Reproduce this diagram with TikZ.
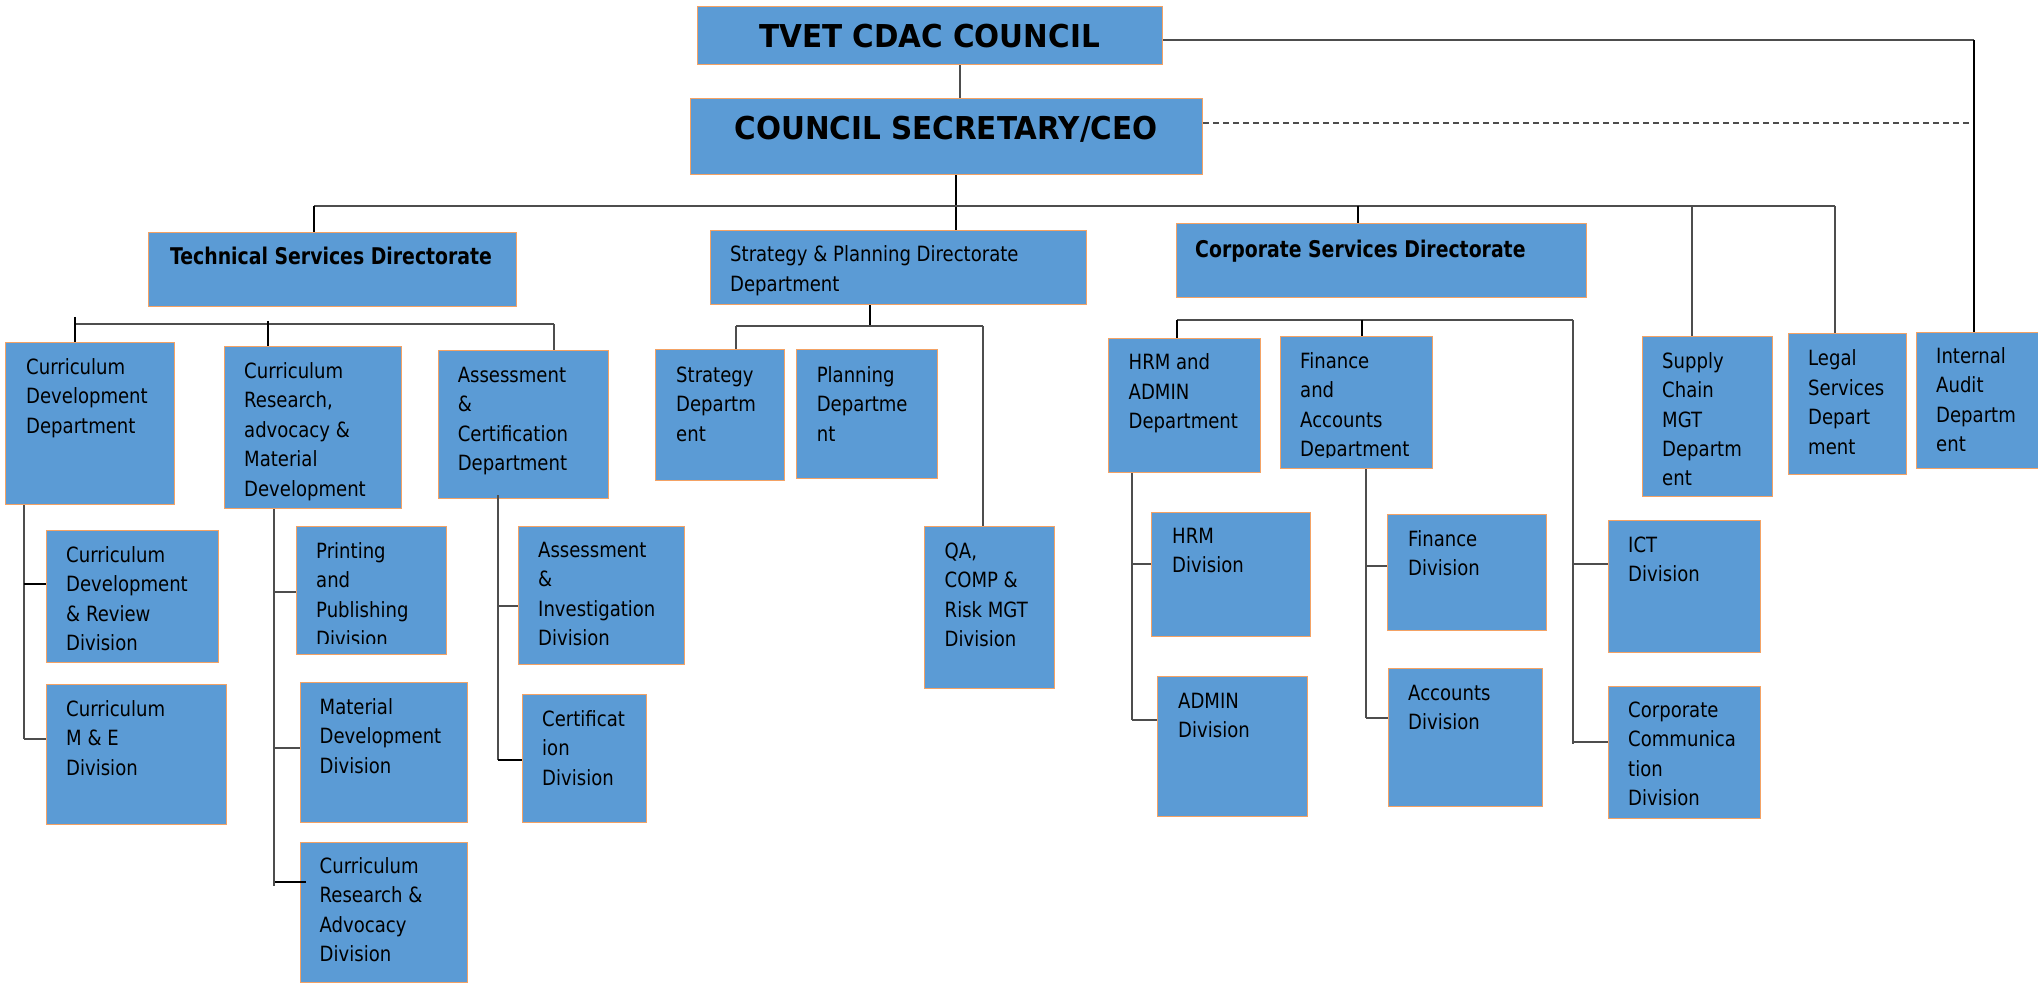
\documentclass[tikz,border=0pt]{standalone}
\usepackage{fontspec}
\setmainfont{DejaVu Sans}[FakeStretch=0.86]
\newfontfamily\bodyfont{DejaVu Sans}[FakeStretch=0.86]
\newfontfamily\headfont{DejaVu Sans}[FakeStretch=0.82]
\newfontfamily\topfont{DejaVu Sans}[FakeStretch=0.935]
\definecolor{boxfill}{HTML}{5B9BD5}
\definecolor{boxborder}{HTML}{F4A264}
\definecolor{linegray}{HTML}{4D4D4D}
\tikzset{
  box/.style={draw=boxborder, fill=boxfill, line width=1.3pt, inner sep=0pt, anchor=north west},
  txt/.style={inner sep=0pt, anchor=base west, font=\bodyfont\fontsize{21}{29.5}\selectfont, text=black},
  conn/.style={draw=linegray, line width=2pt},
  stub/.style={draw=black, line width=2.2pt},
  dashconn/.style={draw=linegray, line width=2pt, dash pattern=on 6pt off 4pt}
}
\newcommand{\mybox}[5]{\node[box, minimum width={#4pt-#2pt}, minimum height={#5pt-#3pt}] (#1) at (#2,#3) {};}
\newcommand{\mytext}[4]{\node[txt] (#1) at (#2,#3) {\parbox[t]{300pt}{\raggedright #4}};}
\begin{document}
\begin{tikzpicture}[x=1pt, y=-1pt]
\useasboundingbox (0,0) rectangle (2038,984);

% ---------- boxes ----------
\mybox{tvet}{697}{6}{1162}{64}
\mybox{ceo}{690}{98}{1202}{174}
\mybox{tech}{148}{232}{516}{306}
\mybox{sp}{710}{230}{1086}{304}
\mybox{corp}{1176}{223}{1586}{297}

\mybox{cdd}{5}{342}{174}{504}
\mybox{crd}{224}{346}{401}{508}
\mybox{acd}{437.5}{350}{608}{498}
\mybox{sd}{655}{349}{784}{480}
\mybox{pd}{796}{349}{936.5}{478}
\mybox{qa}{923.5}{526}{1054}{688}
\mybox{hrmd}{1107.6}{338}{1260}{472}
\mybox{fad}{1280}{336}{1432}{468}
\mybox{scm}{1641.6}{336}{1772}{496}
\mybox{legal}{1787.6}{333}{1906}{474}
\mybox{audit}{1915.7}{332}{2040}{468}

\mybox{cdrd}{45.5}{530}{218}{662}
\mybox{cme}{46}{684}{226}{824}
\mybox{ppd}{295.5}{526}{446}{654}
\mybox{mdd}{300}{682}{467}{822}
\mybox{crad}{300}{842}{467}{982}
\mybox{aid}{518}{526}{684}{664}
\mybox{cert}{522}{694}{646}{822}
\mybox{hrmdiv}{1151}{512}{1310}{636}
\mybox{admin}{1157}{676}{1306.5}{816}
\mybox{fin}{1387}{514}{1546}{630}
\mybox{acc}{1387.5}{668}{1541.5}{806}
\mybox{ict}{1608}{520}{1760}{652}
\mybox{cc}{1607.6}{686}{1760}{818}

% ---------- texts ----------
\node[inner sep=0pt, anchor=base, font=\topfont\bfseries\fontsize{31.5}{36}\selectfont] (tvet-t) at (929.5,48) {TVET CDAC COUNCIL};
\node[inner sep=0pt, anchor=base, font=\topfont\bfseries\fontsize{31.5}{36}\selectfont] (ceo-t) at (946,140) {COUNCIL SECRETARY/CEO};
\node[inner sep=0pt, anchor=base, font=\headfont\bfseries\fontsize{23}{28}\selectfont] (tech-t) at (331,265) {Technical Services Directorate};
\node[inner sep=0pt, anchor=base west, font=\headfont\bfseries\fontsize{23}{28}\selectfont] (corp-t) at (1195,258) {Corporate Services Directorate};
\node[txt] (sp-t) at (730,262) {\parbox[t]{340pt}{\raggedright\fontsize{21}{30}\selectfont Strategy \& Planning Directorate\\Department}};

\mytext{cdd-t}{26}{374}{Curriculum\\Development\\Department}
\mytext{crd-t}{244}{378}{Curriculum\\Research,\\advocacy \&\\Material\\Development}
\mytext{acd-t}{457.6}{382}{Assessment\\\&\\Certification\\Department}
\mytext{sd-t}{676}{382}{Strategy\\Departm\\ent}
\mytext{pd-t}{816.6}{382}{Planning\\Departme\\nt}
\mytext{qa-t}{944.5}{558}{QA,\\COMP \&\\Risk MGT\\Division}
\mytext{hrmd-t}{1128.5}{370}{HRM and\\ADMIN\\Department}
\begin{scope}
\clip (1280,336) rectangle (1432,457);
\mytext{fad-t}{1300}{368}{Finance\\and\\Accounts\\Department}
\end{scope}
\mytext{scm-t}{1662}{368}{Supply\\Chain\\MGT\\Departm\\ent}
\mytext{legal-t}{1808}{366}{Legal\\Services\\Depart\\ment}
\mytext{audit-t}{1936}{363}{Internal\\Audit\\Departm\\ent}

\mytext{cdrd-t}{66}{562}{Curriculum\\Development\\\& Review\\Division}
\mytext{cme-t}{66}{716}{Curriculum\\M \& E\\Division}
\begin{scope}
\clip (295.5,526) rectangle (446,643);
\mytext{ppd-t}{316}{558}{Printing\\and\\Publishing\\Division}
\end{scope}
\mytext{mdd-t}{319.5}{714}{Material\\Development\\Division}
\mytext{crad-t}{319.5}{873}{Curriculum\\Research \&\\Advocacy\\Division}
\mytext{aid-t}{538}{557}{Assessment\\\&\\Investigation\\Division}
\mytext{cert-t}{542}{726}{Certificat\\ion\\Division}
\mytext{hrmdiv-t}{1172}{543}{HRM\\Division}
\mytext{admin-t}{1178}{708}{ADMIN\\Division}
\mytext{fin-t}{1408}{546}{Finance\\Division}
\mytext{acc-t}{1408}{700}{Accounts\\Division}
\mytext{ict-t}{1628}{552}{ICT\\Division}
\mytext{cc-t}{1628}{717}{Corporate\\Communica\\tion\\Division}

% ---------- junction coordinates ----------
\coordinate (tvx) at (960,0);
\coordinate (auditX) at (1974,40);
\coordinate (dashY) at (1972,123);
\coordinate (ceoX) at (956,206);
\coordinate (barL) at (314,206);
\coordinate (barR) at (1835,206);
\coordinate (corpX) at (1358,206);
\coordinate (supX) at (1692,206);

\coordinate (tbL) at (75,324);
\coordinate (tbM) at (268,324);
\coordinate (tbR) at (554,324);
\coordinate (spX) at (870,326);
\coordinate (sbL) at (736,326);
\coordinate (sbR) at (983,326);
\coordinate (cbL) at (1177,320);
\coordinate (cbM) at (1362,320);
\coordinate (cbR) at (1573,320);

% ---------- top level ----------
\draw[conn] (tvet.south -| tvx) -- (ceo.north -| tvx);
\draw[conn] (tvet.east |- auditX) -- (auditX);
\draw[stub] (auditX) -- (audit.north -| auditX);
\draw[dashconn] (ceo.east |- dashY) -- (dashY);
\draw[stub] (ceo.south -| ceoX) -- (sp.north -| ceoX);
\draw[conn] (barL) -- (barR);
\draw[stub] (barL) -- (tech.north -| barL);
\draw[stub] (corpX) -- (corp.north -| corpX);
\draw[conn] (supX) -- (scm.north -| supX);
\draw[conn] (barR) -- (legal.north -| barR);

% ---------- technical services ----------
\draw[conn] (tbL) -- (tbR);
\draw[stub] ([yshift=7pt]tbL) -- (cdd.north -| tbL);
\draw[stub] ([yshift=3pt]tbM) -- (crd.north -| tbM);
\draw[conn] (tbR) -- (acd.north -| tbR);

\coordinate (t1) at (23.7,739);
\draw[conn] (cdd.south -| t1) -- (t1);
\coordinate (b11) at (23.7,584);
\draw[stub] (b11) -- (cdrd.west |- b11);
\draw[conn] (t1) -- (cme.west |- t1);

\coordinate (t2) at (273.7,886);
\draw[conn] (crd.south -| t2) -- (t2);
\coordinate (b21) at (273.7,592);
\coordinate (b22) at (273.7,748);
\coordinate (b23) at (275,882);
\draw[conn] (b21) -- (ppd.west |- b21);
\draw[conn] (b22) -- (mdd.west |- b22);
\draw[stub] (b23) -- ([xshift=6pt]crad.west |- b23);

\coordinate (t3) at (498,760);
\draw[conn] ([yshift=4pt]acd.south -| t3) -- (t3);
\coordinate (b31) at (498,606);
\draw[conn] (b31) -- (aid.west |- b31);
\draw[stub] (t3) -- (cert.west |- t3);

% ---------- strategy & planning ----------
\draw[stub] (sp.south -| spX) -- (spX);
\draw[conn] (sbL) -- (sbR);
\draw[conn] (sbL) -- (sd.north -| sbL);
\draw[conn] (sbR) -- (qa.north -| sbR);

% ---------- corporate services ----------
\draw[conn] (cbL) -- (cbR);
\draw[stub] (cbL) -- (hrmd.north -| cbL);
\draw[stub] (cbM) -- (fad.north -| cbM);

\coordinate (t4) at (1132,720);
\draw[conn] (hrmd.south -| t4) -- (t4);
\coordinate (b41) at (1132,564);
\draw[conn] (b41) -- (hrmdiv.west |- b41);
\draw[conn] (t4) -- (admin.west |- t4);

\coordinate (t5) at (1366,718);
\draw[conn] (fad.south -| t5) -- (t5);
\coordinate (b51) at (1366,566);
\draw[conn] (b51) -- (fin.west |- b51);
\draw[conn] (t5) -- (acc.west |- t5);

\coordinate (t6) at (1573,744);
\draw[conn] (cbR) -- (t6);
\coordinate (b61) at (1573,564);
\coordinate (b62) at (1573,742);
\draw[conn] (b61) -- (ict.west |- b61);
\draw[conn] (b62) -- (cc.west |- b62);
\end{tikzpicture}
\end{document}
